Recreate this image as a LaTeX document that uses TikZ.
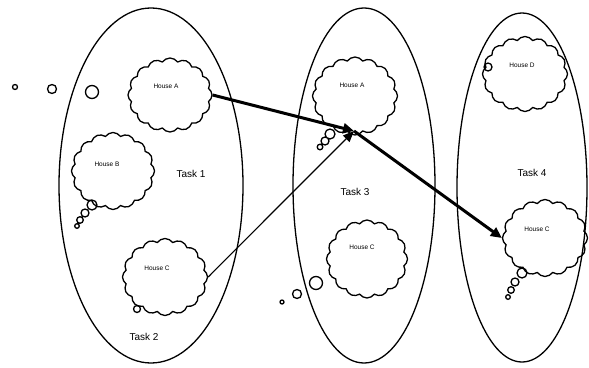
\documentclass[tikz,border=0pt]{standalone}
\usepackage{fontspec}
\setmainfont{Liberation Sans}
\usetikzlibrary{shapes.symbols,shapes.geometric,arrows.meta}
\begin{document}
\begin{tikzpicture}[x=1pt,y=-1pt,
  task/.style={draw,ellipse,line width=1.3pt,inner sep=0pt},
  house/.style={draw,cloud,cloud puffs=16,cloud puff arc=110,cloud ignores aspect,
    line width=1.3pt,inner sep=0pt},
  bubble/.style={line width=1.3pt},
  hlabel/.style={font=\fontsize{6.5}{8}\selectfont,inner sep=0pt},
  tlabel/.style={font=\fontsize{10}{12}\selectfont,inner sep=0pt},
  strong/.style={line width=3pt,-{Triangle[length=11pt,width=10pt]}},
  weak/.style={line width=1.2pt,-{Triangle[length=11pt,width=9pt]}}]
\useasboundingbox[fill=white] (0,0) rectangle (589,367);

% task ellipses
\node[task,minimum width=184pt,minimum height=355pt] (t1) at (151,185.5) {};
\node[task,minimum width=142pt,minimum height=355pt] (t3) at (364,185.5) {};
\node[task,minimum width=130pt,minimum height=349pt] (t4) at (522,187.5) {};

% houses (thought clouds)
\node[house,minimum width=84pt,minimum height=74pt] (ha1) at (170,95) {};
\node[house,minimum width=83pt,minimum height=77pt] (hb1) at (113,171) {};
\node[house,minimum width=85pt,minimum height=77pt] (hc1) at (165,277) {};
\node[house,minimum width=85pt,minimum height=78pt] (ha3) at (355,96) {};
\node[house,minimum width=81pt,minimum height=78pt] (hc3) at (367,259) {};
\node[house,minimum width=85pt,minimum height=75pt] (hd4) at (525,74) {};
\node[house,minimum width=85pt,minimum height=77pt] (hc4) at (545,238) {};

% thought bubbles
\draw[bubble] (92,92) circle (6.5pt) (52,89) circle (4.5pt) (15,87) circle (2.5pt);
\draw[bubble] (92,205) circle (5pt) (85,213) circle (4pt) (80,220) circle (3.3pt) (77,226) circle (2.3pt);
\draw[bubble] (137,309) circle (3.5pt);
\draw[bubble] (330,134) circle (5pt) (325,141) circle (4pt) (320,147) circle (2.8pt);
\draw[bubble] (316,283) circle (6.5pt) (297,294) circle (4.5pt) (282,302) circle (2pt);
\draw[bubble] (488,67) circle (4pt);
\draw[bubble] (522,273) circle (5pt) (515,282) circle (4pt) (511,290) circle (3.3pt) (508,297) circle (2.3pt);

% labels
\node[hlabel] (la1) at (166,86) {House A};
\node[hlabel] (lb1) at (107,164) {House B};
\node[hlabel] (lc1) at (157,268) {House C};
\node[hlabel] (la3) at (352,85) {House A};
\node[hlabel] (lc3) at (362,247) {House C};
\node[hlabel] (ld4) at (522,65) {House D};
\node[hlabel] (lc4) at (537,229) {House C};
\node[tlabel] (k1) at (191,174) {Task 1};
\node[tlabel] (k2) at (144,337) {Task 2};
\node[tlabel] (k3) at (355,192) {Task 3};
\node[tlabel] (k4) at (532,173) {Task 4};

% links
\coordinate (hub) at (354,131);
\draw[strong] (ha1.east) -- (hub);
\draw[weak] (hc1.east) -- (hub);
\draw[strong] (hub) -- (hc4.west);
\end{tikzpicture}
\end{document}
